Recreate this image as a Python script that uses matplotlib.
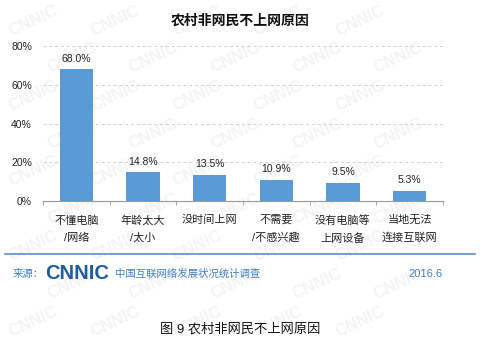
import matplotlib.pyplot as plt
import numpy as np

plt.rcParams['font.family'] = ['Liberation Sans', 'Noto Sans CJK SC', 'DejaVu Sans']

categories = ["不懂电脑\n/网络", "年龄太大\n/太小", "没时间上网", "不需要\n/不感兴趣", "没有电脑等\n上网设备", "当地无法\n连接互联网"]
values = [68.0, 14.8, 13.5, 10.9, 9.5, 5.3]
y_ticks = [0, 20, 40, 60, 80]

bar_color = '#5b9bd5'
blue = '#3f7fc4'

fig = plt.figure(figsize=(4.8, 3.42), dpi=100)

# faint CNNIC watermark, kept inside the canvas
for row, y in enumerate(np.arange(0.06, 0.97, 0.11)):
    off = 0.08 if row % 2 else 0.0
    for x in np.arange(0.07, 0.90, 0.17):
        fig.text(x + off, y, "CNNIC", rotation=25, color='#f4f4f4', fontsize=12,
                 fontweight='bold', ha='center', va='center', zorder=-1)

ax = fig.add_axes([0.0896, 0.412, 0.833, 0.453])
ax.set_zorder(1)
ax.set_facecolor('none')
x = np.arange(len(categories))
ax.bar(x, values, width=0.5, color=bar_color, zorder=3)
for xi, v in zip(x, values):
    ax.text(xi, v + 3, f"{v:.1f}%", ha='center', va='bottom', fontsize=7.5, color='#222222')

ax.set_xlim(-0.5, len(categories) - 0.5)
ax.set_ylim(0, 80)
ax.set_yticks(y_ticks)
ax.set_yticklabels([f"{t}%" for t in y_ticks], fontsize=7.5, color='#222222')
ax.yaxis.grid(True, linestyle=(0, (3, 3)), color='#d0d0d0', linewidth=0.7)
ax.set_axisbelow(True)
ax.tick_params(axis='y', length=0, pad=8)

ax.set_xticks(x)
ax.set_xticklabels(categories, fontsize=8, color='#222222', linespacing=1.85)
ax.set_xticks(np.arange(-0.5, len(categories)), minor=True)
ax.tick_params(axis='x', which='major', length=0, pad=10)
ax.tick_params(axis='x', which='minor', length=3, color='#999999', direction='out')

for s in ['top', 'right', 'left']:
    ax.spines[s].set_visible(False)
ax.spines['bottom'].set_color('#999999')
ax.spines['bottom'].set_linewidth(0.8)

fig.text(0.5, 0.94, "农村非网民不上网原因", ha='center', va='center', fontsize=10,
         fontweight='bold', color='#111111')

# source footer
fig.add_artist(plt.Line2D([0.01, 0.99], [0.257, 0.257], color='#5a8fd2', linewidth=1.2))
fig.text(0.027, 0.199, "来源：", fontsize=7.5, color=blue, va='center', ha='left')
fig.text(0.093, 0.199, "CNNIC", fontsize=14.5, fontweight='bold', color='#1f5e9e',
         va='center', ha='left')
fig.text(0.24, 0.199, "中国互联网络发展状况统计调查", fontsize=7.5, color=blue, va='center', ha='left')
fig.text(0.923, 0.199, "2016.6", fontsize=8, color=blue, va='center', ha='right')

fig.text(0.5, 0.038, "图 9 农村非网民不上网原因", ha='center', va='center', fontsize=9.5,
         color='#111111')

fig.savefig("out.png", dpi=100)
